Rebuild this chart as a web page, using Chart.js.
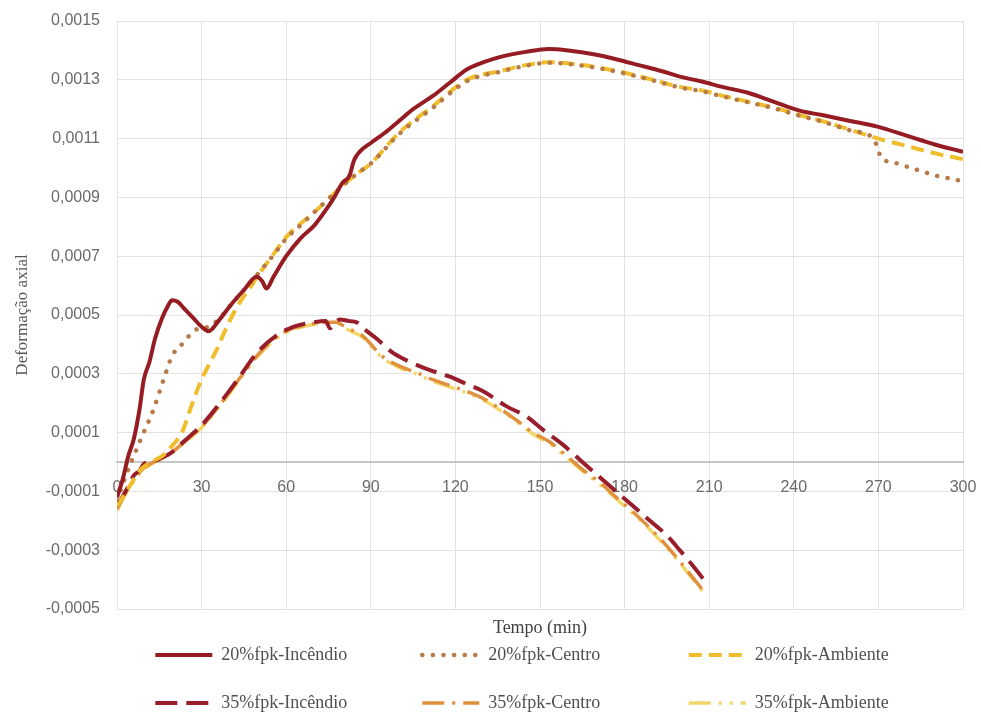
<!DOCTYPE html>
<html lang="pt">
<head>
    <meta charset="UTF-8">
    <title>Deformação axial</title>
    <style>
        html, body { margin: 0; padding: 0; background: #ffffff; }
        #wrap { width: 981px; height: 717px; position: relative; }
    </style>
</head>
<body>
    <div id="wrap"><canvas id="grafico"></canvas></div>

    <script src="https://cdn.jsdelivr.net/npm/chart.js"></script>
    <script>
        // valores em unidades de 1e-4
        const UNIT = 1e-4;

        const nomes = ['20%fpk-Incêndio', '20%fpk-Centro', '20%fpk-Ambiente',
                       '35%fpk-Incêndio', '35%fpk-Centro', '35%fpk-Ambiente'];

        // 20%fpk - Incêndio
        const t20inc = [0, 2, 4, 6, 8, 9.5, 11.5, 13.5, 16, 18, 19.5, 21.5, 24, 27, 30, 32.5, 36, 40, 45, 49.5, 51.5, 53, 55.5,
                        60, 65, 70, 75, 77, 80, 82.5, 84, 86, 90, 95, 100, 105, 112, 118, 124, 130, 136, 145, 153, 160,
                        170, 177, 185, 193, 200, 207, 215, 224, 233, 242, 250, 260, 270, 280, 290, 300];
        const v20inc = [-1.2, -0.6, 0.2, 0.8, 1.8, 2.8, 3.4, 4.2, 4.9, 5.3, 5.5, 5.45, 5.2, 4.9, 4.6, 4.45, 4.8, 5.3, 5.85, 6.3, 6.15, 5.9, 6.3,
                        7.0, 7.6, 8.05, 8.7, 9.0, 9.5, 9.75, 10.25, 10.55, 10.85, 11.2, 11.6, 12.0, 12.45, 12.9, 13.35, 13.6, 13.78, 13.95, 14.05, 14.0,
                        13.85, 13.7, 13.5, 13.3, 13.1, 12.95, 12.75, 12.55, 12.25, 11.95, 11.8, 11.6, 11.4, 11.1, 10.8, 10.55];

        // 20%fpk - Centro
        const t20cen = [0, 3, 5.5, 9, 13, 16.5, 19.5, 24, 27, 30, 32.5, 36, 40, 45, 49.5, 53, 56, 60, 65, 70, 75, 80, 85, 90,
                        100, 112, 124, 136, 145, 153, 165, 177, 190, 200, 207, 215, 224, 233, 242, 250, 260, 268,
                        269.5, 271, 275, 280, 285, 290, 295, 300];
        const v20cen = [-1.3, -0.5, 0.1, 0.9, 1.8, 2.8, 3.6, 4.1, 4.45, 4.55, 4.6, 4.85, 5.3, 5.85, 6.35, 6.75, 7.1, 7.6, 8.05, 8.5, 8.95, 9.4, 9.8, 10.15,
                        11.15, 12.05, 12.95, 13.28, 13.48, 13.58, 13.48, 13.28, 12.98, 12.73, 12.62, 12.43, 12.23, 12.03, 11.78, 11.58, 11.28, 11.02,
                        10.75, 10.35, 10.2, 10.05, 9.9, 9.75, 9.65, 9.55];

        // 20%fpk - Ambiente
        const t20amb = [0, 4, 8, 12, 16, 20, 23, 26, 29.5, 32, 35.5, 38, 41, 44, 47, 50, 55, 60, 65, 70, 75, 80, 85, 90,
                        100, 112, 124, 136, 145, 153, 165, 177, 190, 200, 207, 215, 224, 233, 242, 250, 260, 270, 280, 290, 300];
        const v20amb = [-1.5, -0.9, -0.3, 0.0, 0.2, 0.6, 1.0, 1.8, 2.7, 3.2, 3.85, 4.4, 5.0, 5.5, 5.9, 6.35, 7.0, 7.65, 8.1, 8.5, 8.95, 9.4, 9.8, 10.15,
                        11.2, 12.1, 13.0, 13.3, 13.5, 13.6, 13.5, 13.3, 13.0, 12.75, 12.65, 12.45, 12.25, 12.05, 11.8, 11.6, 11.3, 11.0, 10.75, 10.5, 10.3];

        // 35%fpk - Incêndio
        const t35inc = [0, 3.5, 6, 8, 9.5, 12, 15, 19, 23.5, 29.5, 36.5, 43.5, 49.5, 56.5, 62.5, 69.5, 74, 75.5, 77, 79, 82, 85, 88,
                        92, 98, 104, 110, 118, 124, 130, 138, 145, 151, 158, 165, 171, 177, 183, 189, 195, 200, 204, 208.5];
        const v35inc = [-1.5, -0.92, -0.45, -0.3, -0.07, 0.0, 0.1, 0.3, 0.68, 1.2, 2.0, 2.9, 3.7, 4.3, 4.6, 4.75, 4.8, 4.55, 4.7, 4.85, 4.8, 4.75, 4.5,
                        4.2, 3.7, 3.4, 3.16, 2.9, 2.65, 2.4, 1.9, 1.56, 1.1, 0.6, 0.0, -0.5, -1.0, -1.5, -2.0, -2.5, -3.05, -3.5, -4.05];

        // 35%fpk - Centro
        const t35cen = [0, 3, 6, 9, 12, 15, 19, 23.5, 29.5, 36.5, 43.5, 49.5, 56.5, 62.5, 69.5, 75, 78, 80, 83, 87, 94, 100, 106,
                        112, 118, 124, 130, 136, 142, 147.5, 153.5, 159.5, 165, 171, 177, 183, 189, 195, 201, 208.5];
        const v35cen = [-1.6, -1.05, -0.6, -0.25, -0.05, 0.1, 0.3, 0.65, 1.15, 1.95, 2.85, 3.6, 4.25, 4.55, 4.7, 4.75, 4.75, 4.65, 4.5, 4.3, 3.6, 3.27, 3.05,
                        2.8, 2.6, 2.4, 2.15, 1.8, 1.4, 1.0, 0.68, 0.2, -0.25, -0.68, -1.2, -1.7, -2.25, -2.86, -3.55, -4.45];

        // 35%fpk - Ambiente
        const t35amb = [0, 3, 6, 9, 12, 15, 19, 23.5, 29.5, 36.5, 43.5, 49.5, 56.5, 62.5, 69.5, 75, 78, 80, 83, 87, 94, 100, 106,
                        112, 118, 124, 130, 136, 142, 147.5, 153.5, 159.5, 165, 171, 177, 183, 189, 195, 201, 208.5];
        const v35amb = [-1.65, -1.1, -0.65, -0.3, -0.08, 0.08, 0.28, 0.62, 1.12, 1.9, 2.8, 3.55, 4.2, 4.5, 4.68, 4.72, 4.72, 4.6, 4.45, 4.25, 3.55, 3.22, 3.0,
                        2.75, 2.55, 2.35, 2.1, 1.75, 1.35, 0.95, 0.62, 0.15, -0.3, -0.75, -1.25, -1.75, -2.3, -2.92, -3.6, -4.5];

        const eixoY = { min: -0.0005, max: 0.0015, passo: 0.0002 };
        const eixoX = { min: 0, max: 300, passo: 30 };

        function pontos(ts, vs) {
            return ts.map((t, i) => ({ x: t, y: vs[i] * UNIT }));
        }

        const serif = '"Liberation Serif", "DejaVu Serif", serif';
        const sans = '"Liberation Sans", Arial, sans-serif';
        const fonteLegenda = 18;

        const ctx = document.getElementById('grafico').getContext('2d');
        const grafico = new Chart(ctx, {
            type: 'line',
            data: {
                datasets: [
                    { label: nomes[0], data: pontos(t20inc, v20inc), borderColor: '#951c22', borderWidth: 4, borderDash: [] },
                    { label: nomes[1], data: pontos(t20cen, v20cen), borderColor: '#b87a48', borderWidth: 4.5, borderDash: [0.1, 10.5], borderCapStyle: 'round' },
                    { label: nomes[2], data: pontos(t20amb, v20amb), borderColor: '#f0bd2c', borderWidth: 4, borderDash: [13, 7] },
                    { label: nomes[3], data: pontos(t35inc, v35inc), borderColor: '#971e2a', borderWidth: 4, borderDash: [22, 9] },
                    { label: nomes[4], data: pontos(t35cen, v35cen), borderColor: '#e0913e', borderWidth: 3.5, borderDash: [22, 8, 3, 8] },
                    { label: nomes[5], data: pontos(t35amb, v35amb), borderColor: '#f4d66a', borderWidth: 3.5, borderDash: [22, 8, 3, 8, 3, 8] }
                ]
            },
            options: {
                responsive: true,
                maintainAspectRatio: false,
                animation: false,
                layout: { padding: { top: 21, right: 18, bottom: -5, left: 0 } },
                elements: {
                    point: { radius: 0 },
                    line: { cubicInterpolationMode: 'monotone', fill: false }
                },
                scales: {
                    x: {
                        type: 'linear',
                        position: { y: 0 },
                        min: eixoX.min,
                        max: eixoX.max,
                        // marcas transparentes só para afastar os rótulos do eixo
                        grid: { color: '#e2e2e2', lineWidth: 1, drawTicks: true, tickLength: 14, tickColor: 'rgba(0,0,0,0)' },
                        border: { color: '#c6c6c6', width: 2 },
                        ticks: {
                            stepSize: eixoX.passo,
                            autoSkip: false,
                            maxRotation: 0,
                            padding: 2,
                            color: '#6a6a6a',
                            font: { family: sans, size: 16 }
                        }
                    },
                    y: {
                        min: eixoY.min,
                        max: eixoY.max,
                        grid: { color: '#e2e2e2', lineWidth: 1, drawTicks: true, tickLength: 14, tickColor: 'rgba(0,0,0,0)' },
                        border: { display: false },
                        ticks: {
                            stepSize: eixoY.passo,
                            padding: 3,
                            color: '#6a6a6a',
                            font: { family: sans, size: 16 },
                            callback: v => v.toFixed(4).replace('.', ',')
                        },
                        title: {
                            display: true,
                            text: 'Deformação axial',
                            color: '#595959',
                            font: { family: serif, size: 17 },
                            padding: { top: 12, bottom: 0 }
                        },
                        afterFit: scale => { scale.width = 117; }
                    }
                },
                plugins: {
                    tooltip: { enabled: false },
                    legend: {
                        position: 'bottom',
                        fullSize: false,
                        title: {
                            display: true,
                            text: 'Tempo (min)',
                            color: '#404040',
                            font: { family: serif, size: 18 },
                            padding: { top: 10, bottom: -24.6 }
                        },
                        labels: {
                            usePointStyle: true,
                            pointStyle: 'line',
                            pointStyleWidth: 57,
                            padding: 30,
                            color: '#505050',
                            font: { family: serif, size: fonteLegenda },
                            generateLabels: chart => {
                                // colunas de largura igual: completa o texto com espaços
                                const c = chart.ctx;
                                c.save();
                                c.font = fonteLegenda + 'px ' + serif;
                                const itens = chart.data.datasets.map((ds, i) => {
                                    let txt = ds.label;
                                    while (c.measureText(txt + ' ').width < 171) txt += ' ';
                                    return {
                                        text: txt,
                                        fillStyle: ds.borderColor,
                                        strokeStyle: ds.borderColor,
                                        lineWidth: ds.borderWidth,
                                        lineDash: ds.borderDash,
                                        lineCap: ds.borderCapStyle || 'butt',
                                        pointStyle: 'line',
                                        fontColor: '#505050',
                                        hidden: false,
                                        datasetIndex: i
                                    };
                                });
                                c.restore();
                                return itens;
                            }
                        }
                    }
                }
            }
        });
    </script>
</body>
</html>
